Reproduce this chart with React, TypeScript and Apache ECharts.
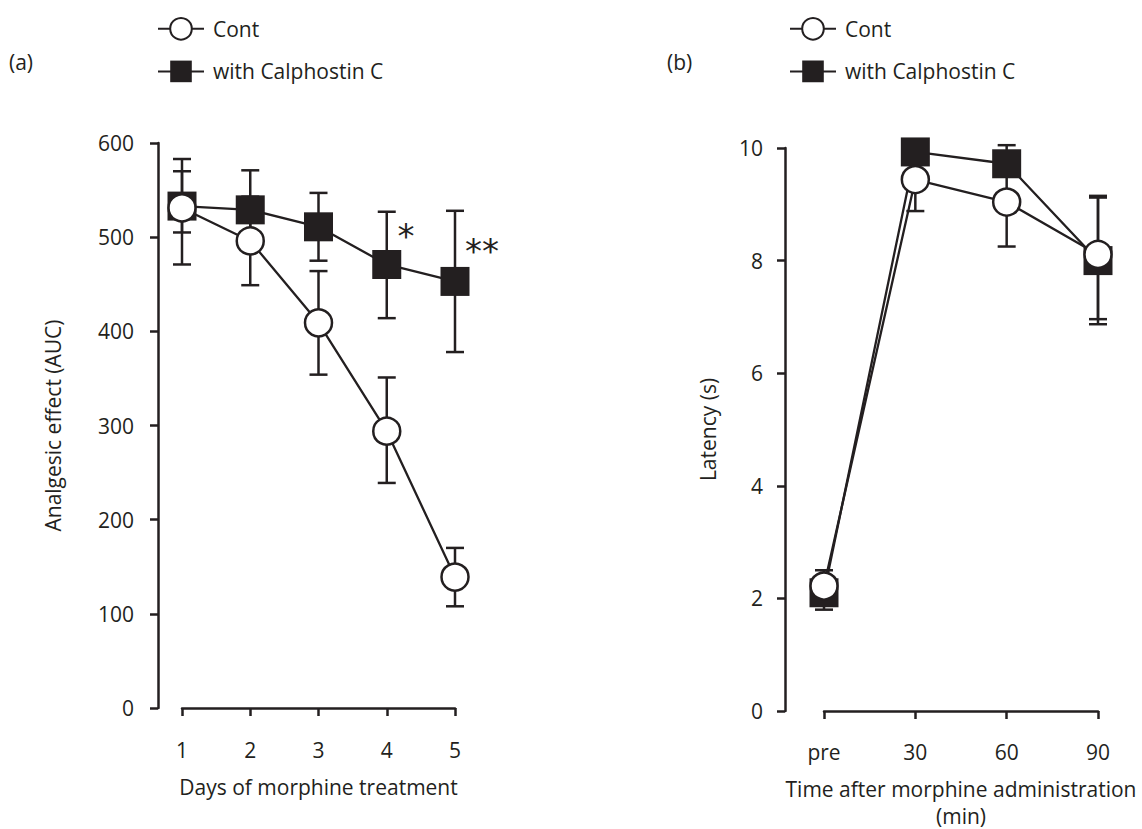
import React, { useEffect, useRef } from "react";
import * as echarts from "echarts";

const INK = "#231f20";
const FONT = "'Open Sans', 'Noto Sans', sans-serif";
const FS = 21;

// Panel (a)
const days = ["1", "2", "3", "4", "5"];
const contA = [531, 496, 409, 294, 139];
const contAHigh = [583, 543, 464, 351, 170];
const contALow = [471, 449, 354, 239, 108];
const calA = [533, 529, 511, 471, 453];
const calAHigh = [570, 571, 547, 527, 528];
const calALow = [505, 487, 475, 414, 378];
const yTicksA = { min: 0, max: 600, interval: 100 };

// Panel (b)
const times = ["pre", "30", "60", "90"];
const contB = [2.22, 9.44, 9.04, 8.11];
const contBHigh = [2.5, 10.0, 9.83, 9.15];
const contBLow = [1.95, 8.88, 8.25, 6.96];
const calB = [2.1, 9.93, 9.72, 8.0];
const calBHigh = [2.4, 10.1, 10.05, 9.12];
const calBLow = [1.8, 9.76, 9.5, 6.87];
const yTicksB = { min: 0, max: 10, interval: 2 };

const errData = (low: number[], high: number[]) =>
  low.map((l, i) => [i, l, high[i]]);

const errorRender = (params: any, api: any) => {
  const x = api.value(0);
  const top = api.coord([x, api.value(2)]);
  const bot = api.coord([x, api.value(1)]);
  const hw = 9;
  const style = { stroke: INK, lineWidth: 2.5 };
  return {
    type: "group",
    children: [
      { type: "line", shape: { x1: top[0], y1: top[1], x2: bot[0], y2: bot[1] }, style },
      { type: "line", shape: { x1: top[0] - hw, y1: top[1], x2: top[0] + hw, y2: top[1] }, style },
      { type: "line", shape: { x1: bot[0] - hw, y1: bot[1], x2: bot[0] + hw, y2: bot[1] }, style },
    ],
  };
};

const axisCommon = {
  axisLine: { show: true, lineStyle: { color: INK, width: 2.5 } },
  axisTick: { show: true, length: 8, lineStyle: { color: INK, width: 2.5 } },
  splitLine: { show: false },
  axisLabel: { color: INK, fontSize: FS, fontFamily: FONT },
  nameTextStyle: { color: INK, fontSize: FS, fontFamily: FONT },
};

const contStyle = {
  type: "line",
  symbol: "circle",
  symbolSize: 27,
  lineStyle: { color: INK, width: 2.3 },
  itemStyle: { color: "#ffffff", borderColor: INK, borderWidth: 2.5 },
  z: 3,
};
const calStyle = {
  type: "line",
  symbol: "rect",
  symbolSize: 29,
  lineStyle: { color: INK, width: 2.3 },
  itemStyle: { color: INK, borderColor: INK, borderWidth: 0 },
  z: 2,
};

const legendCommon = {
  orient: "vertical",
  top: 12,
  itemWidth: 46,
  itemHeight: 27,
  itemGap: 20,
  data: ["Cont", "with Calphostin C"],
  textStyle: { color: INK, fontSize: FS, fontFamily: FONT, padding: [0, 0, 0, 4] },
  selectedMode: false,
};

export default function App() {
  const ref = useRef<HTMLDivElement>(null);
  useEffect(() => {
    if (!ref.current) return;
    const chart = echarts.init(ref.current, undefined, { renderer: "svg" });
    chart.setOption({
      animation: false,
      backgroundColor: "#ffffff",
      legend: [
        { ...legendCommon, left: 152 },
        { ...legendCommon, left: 784 },
      ],
      grid: [
        { left: 182, top: 143, width: 273, height: 565, outerBoundsMode: "none", containLabel: false },
        { left: 824, top: 148, width: 274, height: 563, outerBoundsMode: "none", containLabel: false },
      ],
      xAxis: [
        {
          ...axisCommon,
          gridIndex: 0,
          type: "category",
          data: days,
          boundaryGap: false,
          offset: 7,
          axisLabel: { ...axisCommon.axisLabel, margin: 24 },
          name: "Days of morphine treatment",
          nameLocation: "middle",
          nameGap: 61,
        },
        {
          ...axisCommon,
          gridIndex: 1,
          type: "category",
          data: times,
          boundaryGap: false,
          offset: 4,
          axisLabel: { ...axisCommon.axisLabel, margin: 26 },
          name: "Time after morphine administration\n(min)",
          nameLocation: "middle",
          nameGap: 60,
          nameTextStyle: { ...axisCommon.nameTextStyle, lineHeight: 27 },
        },
      ],
      yAxis: [
        {
          ...axisCommon,
          gridIndex: 0,
          type: "value",
          ...yTicksA,
          offset: 24,
          axisLabel: { ...axisCommon.axisLabel, margin: 24 },
          name: "Analgesic effect (AUC)",
          nameLocation: "middle",
          nameGap: 95,
        },
        {
          ...axisCommon,
          gridIndex: 1,
          type: "value",
          ...yTicksB,
          offset: 39,
          axisLabel: { ...axisCommon.axisLabel, margin: 22 },
          name: "Latency (s)",
          nameLocation: "middle",
          nameGap: 67,
        },
      ],
      series: [
        {
          type: "custom",
          xAxisIndex: 0,
          yAxisIndex: 0,
          renderItem: errorRender,
          data: errData(contALow, contAHigh),
          clip: false,
          z: 1,
          silent: true,
        },
        {
          type: "custom",
          xAxisIndex: 0,
          yAxisIndex: 0,
          renderItem: errorRender,
          data: errData(calALow, calAHigh),
          clip: false,
          z: 1,
          silent: true,
        },
        {
          type: "custom",
          xAxisIndex: 1,
          yAxisIndex: 1,
          renderItem: errorRender,
          data: errData(contBLow, contBHigh),
          clip: false,
          z: 1,
          silent: true,
        },
        {
          type: "custom",
          xAxisIndex: 1,
          yAxisIndex: 1,
          renderItem: errorRender,
          data: errData(calBLow, calBHigh),
          clip: false,
          z: 1,
          silent: true,
        },
        { ...calStyle, name: "with Calphostin C", xAxisIndex: 0, yAxisIndex: 0, data: calA },
        { ...contStyle, name: "Cont", xAxisIndex: 0, yAxisIndex: 0, data: contA },
        { ...calStyle, name: "with Calphostin C", xAxisIndex: 1, yAxisIndex: 1, data: calB },
        { ...contStyle, name: "Cont", xAxisIndex: 1, yAxisIndex: 1, data: contB },
      ],
      graphic: [
        { type: "text", left: 9, top: 51, style: { text: "(a)", fill: INK, font: `${FS}px ${FONT}` } },
        { type: "text", left: 667, top: 51, style: { text: "(b)", fill: INK, font: `${FS}px ${FONT}` } },
        { type: "text", x: 406, y: 236, style: { text: "*", fill: INK, font: `34px 'DejaVu Sans'`, align: "center", verticalAlign: "middle" } },
        { type: "text", x: 482, y: 251, style: { text: "**", fill: INK, font: `34px 'DejaVu Sans'`, align: "center", verticalAlign: "middle" } },
      ],
    });
    return () => chart.dispose();
  }, []);
  return (
    <div
      ref={ref}
      style={{ position: "fixed", left: 0, top: 0, width: 1142, height: 829, background: "#fff" }}
    />
  );
}
